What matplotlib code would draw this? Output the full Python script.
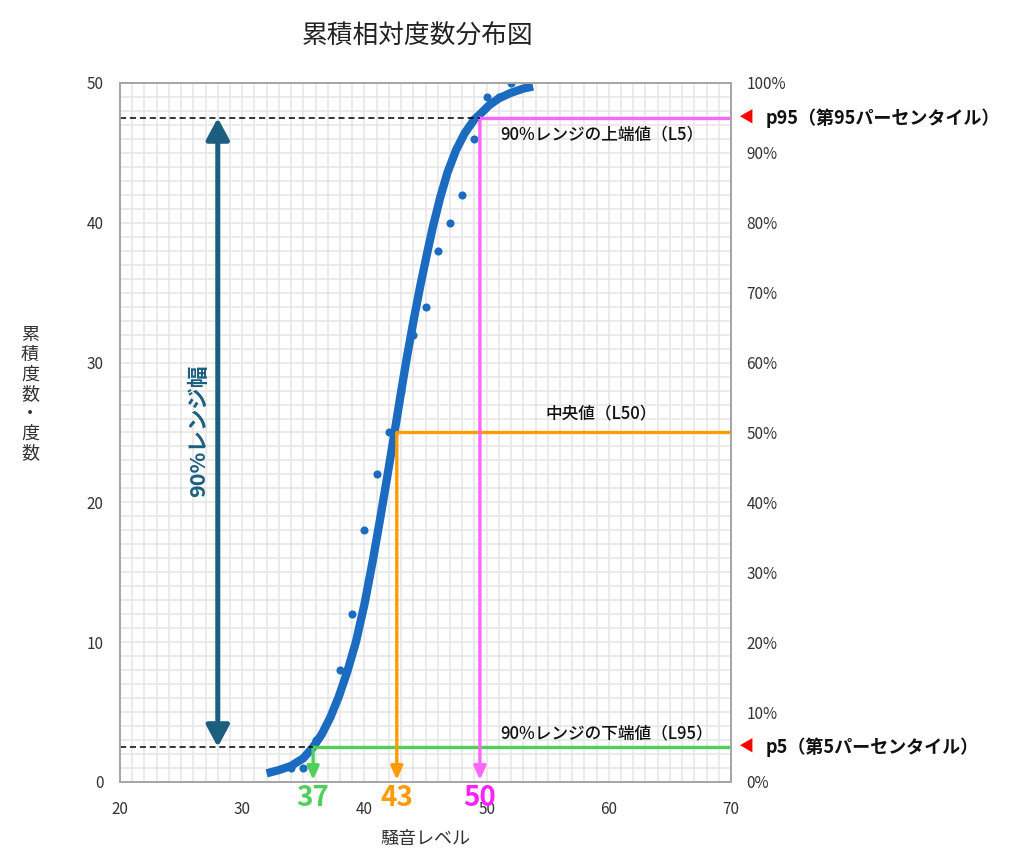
import matplotlib
matplotlib.use('Agg')
import matplotlib.pyplot as plt
from matplotlib.ticker import MultipleLocator, FixedLocator, FixedFormatter

plt.rcParams['font.family'] = ['Noto Sans CJK JP', 'DejaVu Sans']

# ---- text ----
title = "累積相対度数分布図"
x_label = "騒音レベル"
y_label = "累積度数・度数"
range_label = "90%レンジ幅"
upper_label = "90%レンジの上端値（L5）"
median_label = "中央値（L50）"
lower_label = "90%レンジの下端値（L95）"
p95_label = "p95（第95パーセンタイル）"
p5_label = "p5（第5パーセンタイル）"

# ---- data ----
# observed cumulative frequencies (dots)
level = [34, 35, 36, 38, 39, 40, 41, 42, 43, 44, 45, 46, 47, 48, 49, 50, 51, 52]
cum_freq = [1, 1, 3, 8, 12, 18, 22, 25, 28, 32, 34, 38, 40, 42, 46, 49, 49, 50]
total = 50

# fitted cumulative curve
curve_x = [32.0, 33.0, 34.0, 35.0, 35.8, 36.5, 37.2, 37.9, 38.6, 39.3, 40.0,
           40.7, 41.3, 41.9, 42.5, 43.0, 43.5, 44.0, 44.55, 45.1, 45.6, 46.2,
           46.8, 47.5, 48.2, 49.0, 49.5, 50.2, 51.0, 52.0, 53.0, 53.8]
curve_y = [0.62, 0.85, 1.15, 1.7, 2.5, 3.4, 4.6, 6.1, 7.9, 10.0, 12.7,
           15.9, 18.9, 22.0, 25.2, 27.9, 30.5, 32.9, 35.4, 37.7, 39.7, 41.8,
           43.6, 45.2, 46.4, 47.4, 47.8, 48.4, 48.9, 49.3, 49.6, 49.75]

# percentiles
p_names = ["37", "43", "50"]
p_x = [35.8, 42.65, 49.45]
p_frac = [0.05, 0.50, 0.95]
p_line_colors = ['#50d05a', '#ff9a00', '#ff66ff']
p_text_colors = ['#50d05a', '#ff9a00', '#ff22ff']

x_ticks = [20, 30, 40, 50, 60, 70]
y_ticks = [0, 10, 20, 30, 40, 50]
pct_ticks = [i / 10 for i in range(11)]
pct_labels = [f"{i * 10}%" for i in range(11)]

xmin, xmax = 20, 70
ymin, ymax = 0, 50

# ---- figure ----
fig = plt.figure(figsize=(10.24, 8.68), dpi=100)
ax = fig.add_axes([0.1172, 0.0991, 0.5967, 0.8053])
ax.set_xlim(xmin, xmax)
ax.set_ylim(ymin, ymax)

ax.xaxis.set_major_locator(FixedLocator(x_ticks))
ax.yaxis.set_major_locator(FixedLocator(y_ticks))
ax.xaxis.set_minor_locator(MultipleLocator(1))
ax.yaxis.set_minor_locator(MultipleLocator(1))
ax.grid(which='both', color='#e7e7e7', lw=1.2)
ax.set_axisbelow(True)
ax.tick_params(which='both', length=0)
ax.tick_params(axis='y', pad=12, labelsize=11, labelcolor='#333333')
ax.tick_params(axis='x', pad=14, labelsize=11, labelcolor='#333333')
for sp in ax.spines.values():
    sp.set_color('#a6a6a6')
    sp.set_linewidth(1.3)

ax2 = ax.twinx()
ax2.set_ylim(0, 1)
ax2.yaxis.set_major_locator(FixedLocator(pct_ticks))
ax2.yaxis.set_major_formatter(FixedFormatter(pct_labels))
ax2.tick_params(length=0, pad=11, labelsize=11, labelcolor='#333333')
for sp in ax2.spines.values():
    sp.set_color('#a6a6a6')
    sp.set_linewidth(1.3)

# curve and dots
ax.plot(curve_x, curve_y, color='#1b6cc0', lw=6, solid_capstyle='butt',
        solid_joinstyle='round', zorder=3)
ax.scatter(level, cum_freq, s=34, color='#1b6cc0', zorder=3, linewidths=0)

# percentile lines
for name, px, frac, lc, tc in zip(p_names, p_x, p_frac, p_line_colors, p_text_colors):
    py = frac * total
    ax.plot([px, xmax], [py, py], color=lc, lw=2.4, zorder=4, solid_capstyle='butt')
    ax.annotate('', xy=(px, 0.15), xytext=(px, py),
                arrowprops=dict(arrowstyle='-|>,head_length=8,head_width=3.6',
                                mutation_scale=1, color=lc, lw=2.4,
                                shrinkA=0, shrinkB=0), zorder=4)
    ax.text(px, -1.15, name, ha='center', va='center', fontsize=20,
            fontweight='bold', color=tc, clip_on=False)

# dashed guide lines
y_low = p_frac[0] * total
y_high = p_frac[2] * total
ax.plot([xmin, p_x[2]], [y_high, y_high], color='black', lw=1.1, ls=(0, (4, 2.5)), zorder=4)
ax.plot([xmin, p_x[0]], [y_low, y_low], color='black', lw=1.1, ls=(0, (4, 2.5)), zorder=4)

# 90% range double arrow
dark = '#1b5e7e'
ax.annotate('', xy=(28, y_high), xytext=(28, y_low),
            arrowprops=dict(arrowstyle='<|-|>,head_length=13,head_width=7',
                            mutation_scale=1, color=dark, lw=3.6,
                            shrinkA=0, shrinkB=0), zorder=5)
ax.text(26.45, 25.1, range_label, rotation=90, ha='center', va='center',
        fontsize=15.5, fontweight='bold', color=dark)

# in-plot labels
ax.text(59.4, 46.35, upper_label, ha='center', va='center', fontsize=12,
        fontweight='medium', color='#111111')
ax.text(59.4, 26.4, median_label, ha='center', va='center', fontsize=12,
        fontweight='medium', color='#111111')
ax.text(59.8, 3.5, lower_label, ha='center', va='center', fontsize=12,
        fontweight='medium', color='#111111')

# right side labels
for yy, lab in [(y_high, p95_label), (y_low, p5_label)]:
    ax.text(71.2, yy, "◀", ha='center', va='center', fontsize=11, color='#ff0000',
            clip_on=False)
    ax.text(72.85, yy, lab, ha='left', va='center', fontsize=13, fontweight='bold',
            color='#111111', clip_on=False)

# titles
fig.text(418 / 1024, 1 - 36.5 / 868, title, ha='center', va='center', fontsize=18.5,
         color='#222222')
ax.set_xlabel(x_label, fontsize=13, labelpad=8, color='#333333')
fig.text(30 / 1024, 1 - 394 / 868, "\n".join(list(y_label)), ha='center', va='center',
         fontsize=13, linespacing=1.12, color='#333333')

fig.savefig('out.png', dpi=100)
